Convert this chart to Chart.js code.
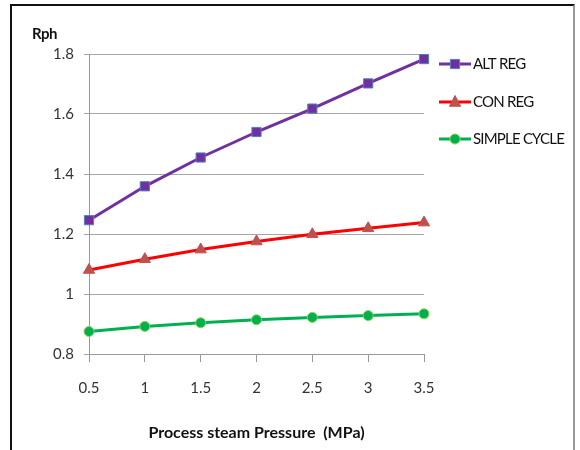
<!DOCTYPE html>
<html>
<head>
<meta charset="utf-8">
<script src="https://cdn.jsdelivr.net/npm/chart.js@4"></script>
<style>
  html, body { margin: 0; padding: 0; background: #fff; }
  #wrap { position: relative; width: 580px; height: 450px; }
  #frame { position: absolute; left: 10px; top: 4px; width: 565px; height: 460px;
           border-left: 2px solid #111; border-top: 2px solid #111; border-right: 2px solid #999; box-sizing: border-box; }
  canvas { position: absolute; left: 0; top: 0; }
</style>
</head>
<body>
<div id="wrap">
  <div id="frame"></div>
  <canvas id="c" width="580" height="450"></canvas>
</div>
<script>
const categories = ['0.5', '1', '1.5', '2', '2.5', '3', '3.5'];
const altReg = [1.246, 1.359, 1.455, 1.540, 1.618, 1.702, 1.783];
const conReg = [1.080, 1.116, 1.148, 1.175, 1.199, 1.219, 1.238];
const simpleCycle = [0.875, 0.892, 0.904, 0.914, 0.922, 0.928, 0.934];
const seriesNames = ['ALT REG', 'CON REG', 'SIMPLE CYCLE'];
const yTitle = 'Rph';
const xTitle = 'Process steam Pressure  (MPa)';

const FONT = 'Lato, "Liberation Sans", sans-serif';

const legendPlugin = {
  id: 'customLegend',
  afterDraw(chart) {
    const ctx = chart.ctx;
    ctx.save();
    const ys = [64, 102, 139];
    chart.data.datasets.forEach((ds, i) => {
      const y = ys[i];
      ctx.strokeStyle = ds.borderColor;
      ctx.lineWidth = 3;
      ctx.beginPath();
      ctx.moveTo(439, y);
      ctx.lineTo(471, y);
      ctx.stroke();
      ctx.fillStyle = ds.pointBackgroundColor;
      ctx.strokeStyle = ds.pointBorderColor;
      ctx.lineWidth = ds.pointBorderWidth;
      ctx.beginPath();
      const r = ds.pointRadius;
      if (ds.pointStyle === 'rect') {
        const s = Math.SQRT1_2 * r;
        ctx.rect(455 - s, y - s, 2 * s, 2 * s);
      } else if (ds.pointStyle === 'triangle') {
        ctx.moveTo(455, y - r);
        ctx.lineTo(455 + r * 0.866, y + r * 0.5 + 1);
        ctx.lineTo(455 - r * 0.866, y + r * 0.5 + 1);
        ctx.closePath();
      } else {
        ctx.arc(455, y, r, 0, Math.PI * 2);
      }
      ctx.fill();
      ctx.stroke();
      ctx.fillStyle = '#111';
      ctx.font = '15px ' + FONT;
      ctx.letterSpacing = '-0.8px';
      ctx.textBaseline = 'middle';
      ctx.textAlign = 'left';
      ctx.fillText(ds.label, 473, y);
    });
    ctx.letterSpacing = '-0.5px';
    ctx.font = 'bold 15px ' + FONT;
    ctx.fillStyle = '#111';
    ctx.textBaseline = 'middle';
    ctx.textAlign = 'left';
    ctx.fillText(yTitle, 32, 34);
    ctx.restore();
  }
};

new Chart(document.getElementById('c'), {
  type: 'line',
  data: {
    labels: categories,
    datasets: [
      { label: seriesNames[0], data: altReg, borderColor: '#7030a0', borderWidth: 3,
        pointStyle: 'rect', pointRadius: 6.5, pointBackgroundColor: '#7030a0', pointBorderColor: '#4f81bd', pointBorderWidth: 1 },
      { label: seriesNames[1], data: conReg, borderColor: '#ff0000', borderWidth: 3,
        pointStyle: 'triangle', pointRadius: 6.5, pointBackgroundColor: '#c0504d', pointBorderColor: '#c0504d', pointBorderWidth: 1 },
      { label: seriesNames[2], data: simpleCycle, borderColor: '#00b050', borderWidth: 3,
        pointStyle: 'circle', pointRadius: 5, pointBackgroundColor: '#00b050', pointBorderColor: '#92d050', pointBorderWidth: 1 }
    ]
  },
  options: {
    responsive: false,
    animation: false,
    devicePixelRatio: 1,
    layout: { padding: { left: 0, right: 156, top: 54, bottom: 0 } },
    plugins: {
      legend: { display: false },
      tooltip: { enabled: false }
    },
    scales: {
      x: {
        offset: false,
        grid: { display: true, drawOnChartArea: false, drawTicks: true, tickLength: 8, color: '#999' },
        border: { color: '#999', width: 1 },
        ticks: { color: '#333', font: { family: FONT, size: 15 }, padding: 17, maxRotation: 0 },
        title: { display: true, text: xTitle, color: '#111', font: { family: FONT, size: 16, weight: 'bold' }, padding: { top: 16, bottom: 8 } },
        afterFit(scale) { scale.height = 96; }
      },
      y: {
        min: 0.8, max: 1.8,
        grid: { color: '#a6a6a6', tickLength: 5, drawTicks: true },
        border: { color: '#999', width: 1 },
        ticks: { stepSize: 0.2, color: '#333', font: { family: FONT, size: 15 }, padding: 10,
                 callback: v => String(Math.round(v * 10) / 10) },
        afterFit(scale) { scale.width = 89; }
      }
    }
  },
  plugins: [legendPlugin]
});
</script>
</body>
</html>
